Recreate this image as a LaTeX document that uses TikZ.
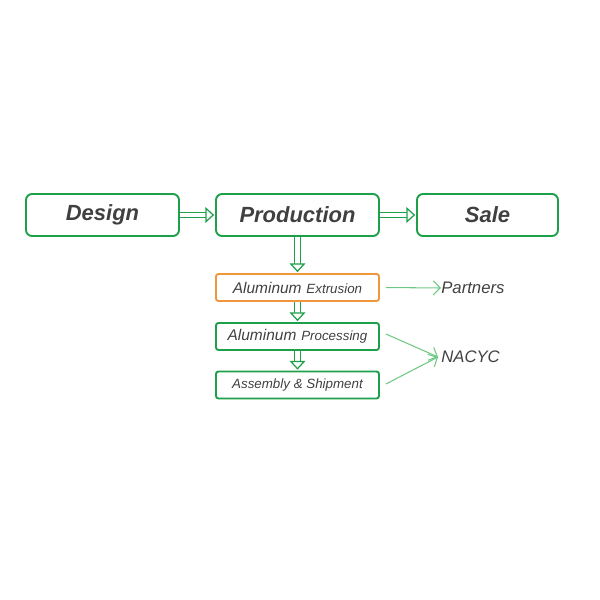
\documentclass[tikz,border=0pt]{standalone}
\usepackage{fontspec}
\setmainfont{Liberation Sans}
\usetikzlibrary{arrows.meta}
\definecolor{boxgreen}{RGB}{30,160,75}
\definecolor{boxorange}{RGB}{240,150,60}
\definecolor{txtgray}{RGB}{64,64,64}
\definecolor{linkgreen}{RGB}{110,200,130}
\tikzset{
  stage/.style={rectangle, rounded corners=0.12cm, draw=boxgreen, line width=1.1pt,
    minimum height=0.84cm, text=txtgray, font=\fontsize{12.5}{14}\selectfont\bfseries\itshape},
  substage/.style={rectangle, rounded corners=0.05cm, draw=boxgreen, line width=1.1pt,
    minimum width=3.26cm, minimum height=0.54cm, inner sep=0pt, text=txtgray, font=\itshape},
  flow/.style={double=white, draw=boxgreen, double distance=2.4pt, line width=0.7pt,
    -{Triangle[length=5pt, width=9pt, fill=white, line width=0.7pt]}, shorten >=0.5pt},
  link/.style={draw=linkgreen, line width=0.6pt, -{Straight Barb[length=4pt]}},
  partner/.style={text=txtgray, font=\fontsize{9.5}{11}\selectfont\itshape, inner sep=0pt, anchor=west}
}
\begin{document}
\begin{tikzpicture}
\useasboundingbox (0,0) rectangle (12,-12);

\node[stage, minimum width=3.06cm] (design) at (2.05,-4.3) {Design};
\node[stage, minimum width=3.26cm] (production) at (5.95,-4.3) {Production};
\node[stage, minimum width=2.82cm] (sale) at (9.75,-4.3) {Sale};

\node[substage, draw=boxorange] (extrusion) at (5.95,-5.75) {{\fontsize{8.8}{10}\selectfont Aluminum} {\fontsize{7.6}{9}\selectfont Extrusion}};
\node[substage] (processing) at (5.95,-6.73) {{\fontsize{8.8}{10}\selectfont Aluminum} {\fontsize{7.6}{9}\selectfont Processing}};
\node[substage] (assembly) at (5.95,-7.7) {\fontsize{7.6}{9}\selectfont Assembly \& Shipment};

\node[partner] (partners) at (8.82,-5.76) {Partners};
\node[partner] (nacyc) at (8.82,-7.14) {NACYC};

\draw[flow] (design) -- (production);
\draw[flow] (production) -- (sale);
\draw[flow] (production) -- (extrusion);
\draw[flow] (extrusion) -- (processing);
\draw[flow] (processing) -- (assembly);

\draw[link] ([xshift=0.12cm]extrusion.east) -- (partners.west);
\draw[link] ([xshift=0.12cm,yshift=0.05cm]processing.east) -- ([xshift=-0.06cm]nacyc.west);
\draw[link] ([xshift=0.12cm,yshift=0.02cm]assembly.east) -- ([xshift=-0.06cm]nacyc.west);
\end{tikzpicture}
\end{document}
